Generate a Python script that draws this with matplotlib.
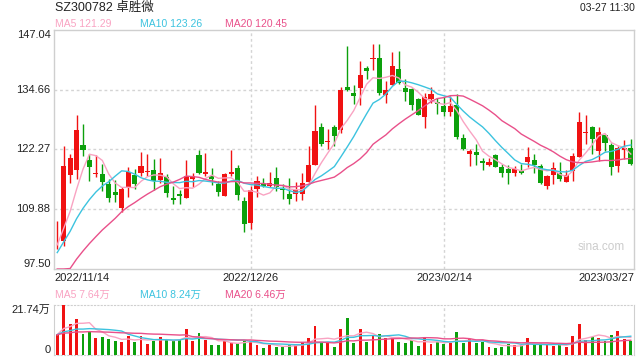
import numpy as np
import pandas as pd
import matplotlib
matplotlib.use("Agg")
import matplotlib.pyplot as plt
import matplotlib.transforms as mtransforms

plt.rcParams["font.family"] = ["Liberation Sans", "Noto Sans CJK SC"]

title = "SZ300782 卓胜微"
stamp = "03-27 11:30"
price_labels = ["MA5 121.29", "MA10 123.26", "MA20 120.45"]
vol_labels = ["MA5 7.64万", "MA10 8.24万", "MA20 6.46万"]
date_labels = ["2022/11/14", "2022/12/26", "2023/02/14", "2023/03/27"]
date_idx = [0, 30, 60, 89]
price_ticks = [147.04, 134.66, 122.27, 109.88, 97.50]
vol_top = 21.74

opens = [103.0, 103.4, 116.97, 118.0, 123.3, 120.0, 117.2, 117.1, 115.1, 113.4,
         110.1, 114.2, 116.97, 117.5, 117.6, 118.0, 115.94, 116.5, 112.15, 113.05,
         112.2, 116.1, 121.2, 117.2, 116.8, 115.05, 112.6, 117.25, 118.5, 111.6,
         107.06, 114.1, 115.05, 114.7, 116.3, 114.1, 112.98, 113.05, 113.05, 115.46,
         119.04, 127.0, 123.85, 127.0, 126.4, 135.27, 134.0, 134.93, 139.06, 141.12,
         141.26, 133.55, 135.6, 138.9, 135.0, 134.86, 132.8, 129.1, 132.8, 132.04,
         131.35, 130.1, 131.56, 124.68, 121.24, 121.65, 119.93, 119.1, 121.03, 118.69,
         118.14, 117.3, 117.9, 119.6, 120.0, 118.9, 114.63, 116.97, 117.3, 115.46,
         117.87, 120.69, 125.64, 126.88, 121.93, 125.3, 123.3, 118.76, 122.13, 122.48]
closes = [103.1, 118.9, 120.41, 126.4, 122.13, 118.6, 117.4, 115.5, 112.2, 112.9,
          114.0, 117.6, 115.1, 118.76, 117.75, 115.8, 117.3, 113.3, 111.8, 112.6,
          116.8, 116.7, 117.5, 117.7, 116.1, 113.5, 117.1, 117.7, 112.9, 106.86,
          113.94, 115.67, 114.7, 115.25, 114.56, 113.94, 112.0, 113.9, 115.3, 119.0,
          126.2, 123.37, 124.0, 125.0, 134.5, 134.65, 133.4, 137.75, 138.64, 141.26,
          133.9, 134.65, 139.6, 136.1, 134.1, 131.56, 129.5, 133.14, 133.76, 131.6,
          130.1, 131.35, 124.9, 122.34, 121.86, 121.1, 119.38, 119.7, 118.7, 117.5,
          117.38, 118.14, 117.38, 120.8, 119.1, 115.32, 116.7, 118.35, 116.1, 116.9,
          120.96, 128.05, 125.78, 124.54, 125.99, 123.58, 118.6, 122.61, 122.54, 119.31]
highs = [107.55, 123.0, 121.3, 129.5, 127.5, 121.3, 121.1, 119.2, 116.1, 115.9,
         114.6, 118.7, 118.3, 121.65, 121.4, 120.4, 120.5, 117.2, 114.77, 113.9,
         120.14, 117.5, 122.2, 121.6, 118.5, 115.8, 117.45, 122.2, 118.97, 112.5,
         114.77, 116.7, 116.3, 117.66, 118.7, 115.1, 116.35, 115.46, 117.4, 122.9,
         131.5, 127.84, 126.5, 127.3, 135.2, 143.8, 135.55, 140.57, 139.5, 144.15,
         144.2, 136.44, 142.56, 142.6, 136.9, 135.0, 133.0, 134.0, 135.27, 133.0,
         133.14, 133.3, 133.76, 125.57, 122.34, 123.37, 120.41, 120.6, 121.3, 119.2,
         119.1, 118.9, 119.2, 122.8, 121.44, 119.24, 116.97, 119.6, 119.7, 118.0,
         121.58, 129.97, 129.35, 127.1, 126.95, 125.57, 123.58, 123.03, 124.26, 124.54]
lows = [101.7, 102.2, 115.3, 116.1, 120.96, 115.66, 116.5, 113.6, 111.33, 111.4,
        109.3, 112.4, 114.15, 116.7, 116.8, 113.9, 115.25, 112.36, 111.0, 111.0,
        112.2, 114.6, 117.2, 116.8, 115.0, 112.7, 112.6, 116.8, 111.8, 105.2,
        105.8, 112.36, 114.4, 114.56, 113.6, 112.0, 111.0, 111.67, 111.8, 115.25,
        119.0, 122.9, 122.34, 123.0, 125.6, 134.3, 131.8, 131.5, 136.8, 138.7,
        133.55, 131.97, 135.6, 135.75, 132.3, 130.46, 129.35, 126.67, 131.97, 129.7,
        129.2, 129.2, 124.47, 122.13, 118.83, 119.1, 118.07, 118.9, 118.55, 116.5,
        115.1, 116.7, 117.2, 118.55, 117.5, 115.1, 114.1, 115.1, 115.8, 115.46,
        115.8, 120.69, 123.37, 121.44, 119.93, 121.93, 117.04, 117.7, 120.27, 118.97]
# volume in 万
volumes = [9.13, 21.74, 13.33, 15.65, 9.13, 10.4, 7.4, 7.8, 6.96, 6.09,
           5.65, 8.26, 5.65, 8.26, 4.78, 6.09, 7.83, 6.52, 6.09, 6.52,
           11.3, 6.09, 9.57, 6.52, 4.35, 4.35, 6.09, 5.36, 5.07, 6.09,
           6.09, 4.35, 3.04, 4.35, 3.48, 3.48, 4.64, 4.35, 5.5, 7.4,
           12.6, 5.5, 5.5, 3.48, 11.3, 16.1, 5.2, 11.3, 5.65, 8.4,
           9.13, 7.4, 7.4, 5.65, 5.2, 6.5, 3.9, 7.8, 4.78, 5.65,
           4.78, 5.2, 10.0, 5.2, 6.96, 5.2, 5.65, 3.48, 3.04, 3.48,
           4.78, 4.35, 4.35, 7.4, 4.35, 5.2, 4.35, 3.9, 4.35, 3.48,
           8.26, 13.5, 6.52, 7.83, 7.4, 6.09, 8.7, 10.4, 6.96, 6.09]
# sessions before the window (not drawn), only feed the moving averages
prev_closes = [87.0, 87.0, 87.5, 88.4, 87.6, 88.9, 87.8, 88.2, 88.6, 86.7,
               96.8, 98.5, 100.2, 100.6, 100.4, 101.8, 102.9, 103.5, 101.2]
prev_volumes = [8.2, 9.5, 8.6, 9.1, 7.9, 8.8, 9.4, 8.3, 9.0, 8.7,
                9.6, 8.1, 8.9, 9.2, 8.4, 8.6, 9.3, 8.5, 8.9]

RED = "#f01212"
GREEN = "#0ca00c"
MA_COLORS = ["#f9a3c2", "#3cc3df", "#e9508a"]
TXT = "#222222"
GRID = "#d4d4d4"

n = len(closes)
x = np.arange(n)
o, c, h, l = map(np.array, (opens, closes, highs, lows))
up = c >= o
colors = np.where(up, RED, GREEN)

close_s = pd.Series(prev_closes + closes)
vol_s = pd.Series(prev_volumes + volumes)
k = len(prev_closes)

fig = plt.figure(figsize=(6.4, 3.6), dpi=100)
ax = fig.add_axes([54 / 640, 1 - 269 / 360, 580 / 640, 239 / 360])
axv = fig.add_axes([54 / 640, 1 - 355 / 360, 580 / 640, 50 / 360])

ymin, ymax = price_ticks[-1], price_ticks[0]

# candles
ax.vlines(x, l, h, colors=colors, lw=1, zorder=3)
body = np.maximum(np.abs(c - o), 0.2)
ax.bar(x, body, bottom=np.minimum(o, c), width=0.8, color=colors, lw=0, zorder=4)

for w, col in zip([5, 10, 20], MA_COLORS):
    ma = close_s.rolling(w).mean().to_numpy()[k:]
    ax.plot(x, np.maximum(ma, ymin), color=col, lw=1, zorder=5)
    mv = vol_s.rolling(w).mean().to_numpy()[k:]
    axv.plot(x, mv, color=col, lw=1, zorder=5)

ax.set_xlim(-0.5, n - 0.5)
ax.set_ylim(ymin, ymax)
for t in price_ticks[1:-1]:
    ax.axhline(t, color=GRID, lw=1, ls=(0, (2, 2)), zorder=1)
for a in (ax, axv):
    for i in date_idx[1:-1]:
        a.axvline(i, color=GRID, lw=1, ls=(0, (2, 2)), zorder=1)
    a.set_xticks([])
    a.set_yticks([])
for s in ax.spines.values():
    s.set_color("#cfcfcf")
    s.set_linewidth(1)

trans = mtransforms.blended_transform_factory(ax.transAxes, ax.transData)
for t in price_ticks:
    va = "top" if t == ymax else "bottom" if t == ymin else "center"
    ax.text(-0.006, t, f"{t:.2f}", transform=trans, ha="right", va=va,
            fontsize=8, color=TXT)

has = ["left", "center", "center", "right"]
for lab, i, ha in zip(date_labels, date_idx, has):
    xx = i + 0.5 if ha == "right" else i - 0.5 if ha == "left" else i
    ax.text(xx, -0.015, lab, transform=mtransforms.blended_transform_factory(ax.transData, ax.transAxes),
            ha=ha, va="top", fontsize=8, color=TXT)

ax.text(0.985, 0.09, "sina.com", transform=ax.transAxes, ha="right", va="center",
        fontsize=8.5, color="#cccccc")

# volume panel
axv.bar(x, volumes, width=0.45, color=colors, lw=0, zorder=3)
axv.set_xlim(-0.5, n - 0.5)
axv.set_ylim(0, vol_top)
for side in ("top", "bottom"):
    axv.spines[side].set_linestyle((0, (1, 2)))
for s in axv.spines.values():
    s.set_color("#cfcfcf")
axv.text(-0.006, 1, f"{vol_top:.2f}万", transform=axv.transAxes, ha="right", va="top",
         fontsize=8, color=TXT)
axv.text(-0.006, 0, "0", transform=axv.transAxes, ha="right", va="bottom",
         fontsize=8, color=TXT)

# header texts
fig.text(55 / 640, 1 - 8 / 360, title, ha="left", va="center", fontsize=9, color=TXT)
fig.text(635 / 640, 1 - 8 / 360, stamp, ha="right", va="center", fontsize=7.5, color=TXT)
for lab, col, px in zip(price_labels, MA_COLORS, [55, 140, 225]):
    fig.text(px / 640, 1 - 24 / 360, lab, ha="left", va="center", fontsize=7.5, color=col)
for lab, col, px in zip(vol_labels, MA_COLORS, [55, 140, 225]):
    fig.text(px / 640, 1 - 295 / 360, lab, ha="left", va="center", fontsize=7.5, color=col)

fig.savefig("out.png", dpi=100)
